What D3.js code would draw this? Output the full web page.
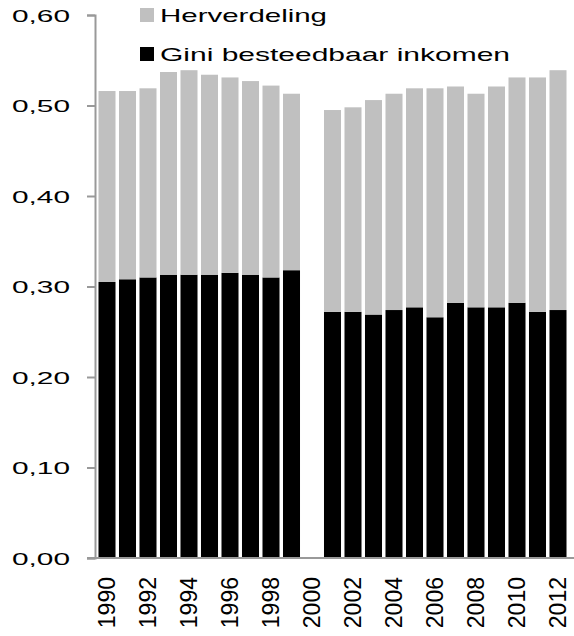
<!DOCTYPE html>
<html>
<head>
<meta charset="utf-8">
<script src="https://cdn.jsdelivr.net/npm/d3@7"></script>
<style>
  body { margin: 0; background: #fff; }
  text { font-family: "Liberation Sans", Arial, sans-serif; fill: #000; }
</style>
</head>
<body>
<div class="container"></div>
<script>
const years = [1990, 1991, 1992, 1993, 1994, 1995, 1996, 1997, 1998, 1999, 2000,
  2001, 2002, 2003, 2004, 2005, 2006, 2007, 2008, 2009, 2010, 2011, 2012];
// Gini besteedbaar inkomen (black, bottom)
const gini = [0.305, 0.308, 0.310, 0.313, 0.313, 0.313, 0.315, 0.313, 0.310, 0.318, null,
  0.272, 0.272, 0.269, 0.274, 0.277, 0.266, 0.282, 0.277, 0.277, 0.282, 0.272, 0.274];
// Herverdeling (grey, on top)
const herverdeling = [0.211, 0.208, 0.209, 0.224, 0.226, 0.221, 0.216, 0.214, 0.212, 0.195, null,
  0.223, 0.226, 0.237, 0.239, 0.242, 0.253, 0.239, 0.236, 0.244, 0.249, 0.259, 0.265];
const yTicks = [0, 0.1, 0.2, 0.3, 0.4, 0.5, 0.6];
const legendItems = ["Herverdeling", "Gini besteedbaar inkomen"];

const width = 574;
const height = 636;

const svg = d3.select(".container").append("svg").attr("width", width).attr("height", height);

const x = d3.scaleBand().domain(years).range([96.75, 568.25]).paddingInner(0.17).paddingOuter(0.085);
const y = d3.scaleLinear().domain([0, 0.6]).range([558, 15]);

const rows = years.map((yr, i) => ({year: yr, gini: gini[i] || 0, herverdeling: herverdeling[i] || 0}));
const series = d3.stack().keys(["gini", "herverdeling"])(rows);
const colors = {gini: "#000000", herverdeling: "#c0c0c0"};

svg.append("g").selectAll("g")
  .data(series)
  .enter().append("g")
    .attr("fill", d => colors[d.key])
  .selectAll("rect")
  .data(d => d.filter(p => p[1] > p[0]))
  .enter().append("rect")
    .attr("x", d => x(d.data.year))
    .attr("width", x.bandwidth())
    .attr("y", d => y(d[1]))
    .attr("height", d => y(d[0]) - y(d[1]));

// y axis
const yAxis = svg.append("g")
    .attr("transform", "translate(95,0)")
    .call(d3.axisLeft(y).tickValues(yTicks).tickSize(8).tickPadding(17)
      .tickFormat(d => d3.format(".2f")(d).replace(".", ",")));
yAxis.select(".domain").attr("stroke", "#999").attr("stroke-width", 2);
yAxis.selectAll(".tick line").attr("stroke", "#999").attr("stroke-width", 2);
yAxis.selectAll(".tick text")
    .attr("font-size", 17)
    .attr("font-family", "Liberation Sans, Arial, sans-serif")
    .attr("fill", "#000")
    .attr("dy", "0.36em")
    .attr("textLength", 58)
    .attr("lengthAdjust", "spacingAndGlyphs");

// x axis line
svg.append("line")
    .attr("x1", 87).attr("x2", width)
    .attr("y1", y(0)).attr("y2", y(0))
    .attr("stroke", "#999").attr("stroke-width", 2);

// year labels (every other year)
svg.append("g").selectAll("text")
  .data(years.filter(d => d % 2 === 0))
  .enter().append("text")
    .attr("transform", d => `translate(${x(d) + x.bandwidth() / 2},577) rotate(-90)`)
    .attr("text-anchor", "end")
    .attr("dy", "0.36em")
    .attr("font-size", 23)
    .text(d => d);

// legend
const legend = svg.append("g").selectAll("g")
  .data(legendItems)
  .enter().append("g")
    .attr("transform", (d, i) => `translate(140,${8 + i * 39})`);
legend.append("rect")
    .attr("width", 14).attr("height", 14)
    .attr("fill", (d, i) => i === 0 ? colors.herverdeling : colors.gini);
legend.append("text")
    .attr("x", 20).attr("y", 14)
    .attr("font-size", 18.5)
    .attr("textLength", (d, i) => i === 0 ? 167 : 350)
    .attr("lengthAdjust", "spacingAndGlyphs")
    .text(d => d);
</script>
</body>
</html>
